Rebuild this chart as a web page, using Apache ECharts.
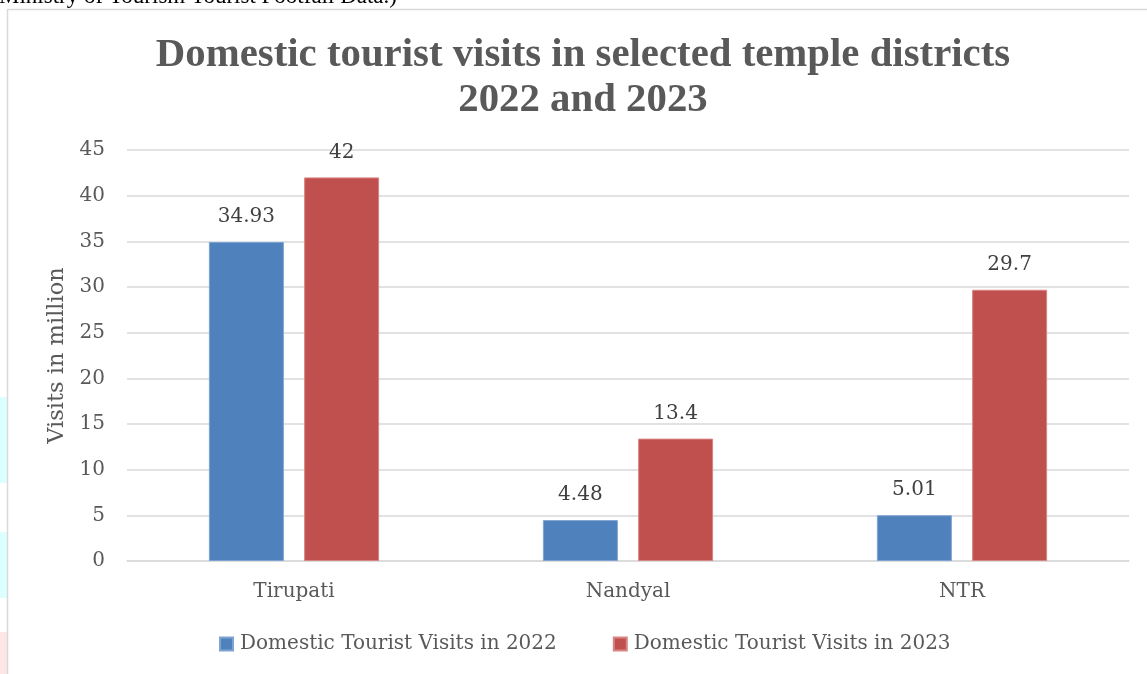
<!DOCTYPE html>
<html>
<head>
<meta charset="utf-8">
<script src="https://cdn.jsdelivr.net/npm/echarts@6/dist/echarts.min.js"></script>
<style>html,body{margin:0;padding:0;background:#fff;}#c{width:1147px;height:674px;}</style>
</head>
<body>
<div id="c"></div>
<script>
const categories = ['Tirupati', 'Nandyal', 'NTR'];
const visits2022 = [34.93, 4.48, 5.01];
const visits2023 = [42, 13.4, 29.7];
const seriesNames = ['Domestic Tourist Visits in 2022', 'Domestic Tourist Visits in 2023'];
const titleText = 'Domestic tourist visits in selected temple districts\n2022 and 2023';
const yAxisName = 'Visits in million';
const topNote = 'Ministry of Tourism Tourist Footfall Data.)';

const TFONT = 'Liberation Serif';
const FONT = 'DejaVu Serif';
const chart = echarts.init(document.getElementById('c'));
chart.setOption({
  animation: false,
  backgroundColor: '#fff',
  title: {
    text: titleText,
    left: 583,
    textAlign: 'center',
    top: 33,
    padding: 0,
    textStyle: { fontFamily: TFONT, fontWeight: 'bold', fontSize: 40.8, color: '#595959', lineHeight: 45 }
  },
  graphic: [
    { type: 'rect', shape: { x: 0, y: 397, width: 7, height: 86 }, style: { fill: '#dcffff' }, z: -1 },
    { type: 'rect', shape: { x: 0, y: 532, width: 7, height: 66 }, style: { fill: '#dcffff' }, z: -1 },
    { type: 'rect', shape: { x: 0, y: 632, width: 7, height: 42 }, style: { fill: '#ffe6e6' }, z: -1 },
    { type: 'rect', shape: { x: 7.5, y: 9.5, width: 1200, height: 700 }, style: { fill: 'none', stroke: '#d9d9d9', lineWidth: 1.5 }, z: -1 },
    { type: 'text', left: -1, top: -15, style: { text: topNote, fontFamily: TFONT, fontSize: 23, fill: '#000' } }
  ],
  legend: {
    bottom: 15,
    left: 214,
    itemWidth: 13,
    itemHeight: 13,
    itemGap: 56,
    icon: 'rect',
    textStyle: { fontFamily: FONT, fontSize: 20, color: '#595959', padding: [0, 0, 0, 2] },
    data: seriesNames
  },
  grid: { left: 127, right: 18, top: 150, bottom: 113, containLabel: false },
  xAxis: {
    type: 'category',
    data: categories,
    axisLine: { lineStyle: { color: '#d9d9d9', width: 1.5 } },
    axisTick: { show: false },
    axisLabel: { fontFamily: FONT, fontSize: 20, color: '#595959', margin: 21 }
  },
  yAxis: {
    type: 'value',
    min: 0, max: 45, interval: 5,
    name: yAxisName,
    nameLocation: 'middle',
    nameGap: 57,
    nameRotate: 90,
    nameTextStyle: { fontFamily: FONT, fontSize: 22.5, color: '#595959' },
    axisLine: { show: false },
    axisTick: { show: false },
    axisLabel: { fontFamily: FONT, fontSize: 20, color: '#595959', margin: 22 },
    splitLine: { lineStyle: { color: '#d9d9d9', width: 1.5 } }
  },
  series: [
    {
      name: seriesNames[0], type: 'bar', data: visits2022,
      barWidth: 75, barGap: '27%',
      itemStyle: { color: '#4f81bd', borderColor: '#7fa3d3', borderWidth: 1 },
      label: { show: true, position: 'top', distance: 15, fontFamily: FONT, fontSize: 20, color: '#404040' }
    },
    {
      name: seriesNames[1], type: 'bar', data: visits2023,
      barWidth: 75,
      itemStyle: { color: '#c0504d', borderColor: '#d98583', borderWidth: 1 },
      label: { show: true, position: 'top', distance: 15, fontFamily: FONT, fontSize: 20, color: '#404040' }
    }
  ]
});
</script>
</body>
</html>
